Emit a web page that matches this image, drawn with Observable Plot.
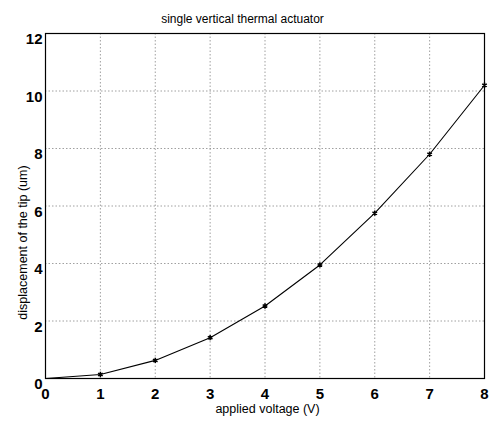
<!DOCTYPE html>
<html><head><meta charset="utf-8">
<script src="https://cdn.jsdelivr.net/npm/d3@7"></script>
<script src="https://cdn.jsdelivr.net/npm/@observablehq/plot@0.6"></script>
<style>body{margin:0;background:#fff}</style>
</head><body><div id="chart"></div>
<script>
const voltage = [0, 1, 2, 3, 4, 5, 6, 7, 8];
const displacement = [0, 0.14, 0.63, 1.42, 2.52, 3.95, 5.75, 7.8, 10.2];
const xTicks = [0, 1, 2, 3, 4, 5, 6, 7, 8];
const yTicks = [0, 2, 4, 6, 8, 10, 12];
const title = "single vertical thermal actuator";
const xLabel = "applied voltage (V)";
const yLabel = "displacement of the tip (um)";

const data = voltage.map((v, i) => ({v, d: displacement[i]}));

const chart = Plot.plot({
  width: 494, height: 424,
  marginLeft: 45, marginRight: 10, marginTop: 33, marginBottom: 46,
  style: {fontFamily: "Liberation Sans, Arial, sans-serif", background: "#fff", color: "#000"},
  x: {domain: [0, 8], ticks: xTicks},
  y: {domain: [0, 12], ticks: yTicks},
  marks: [
    Plot.gridX(xTicks, {stroke: "#888", strokeOpacity: 1, strokeDasharray: "1.5,2", strokeWidth: 0.8}),
    Plot.gridY(yTicks, {stroke: "#888", strokeOpacity: 1, strokeDasharray: "1.5,2", strokeWidth: 0.8}),
    Plot.frame({stroke: "#000", strokeWidth: 1.2}),
    Plot.axisX(xTicks, {tickSize: 0, tickPadding: 10, fontSize: 15, fontWeight: "bold", label: null}),
    Plot.axisY(yTicks, {tickSize: 0, tickPadding: 3, dy: 6, fontSize: 15, fontWeight: "bold", label: null}),
    Plot.line(data, {x: "v", y: "d", stroke: "#000", strokeWidth: 1.1}),
    Plot.dot(data.slice(1), {x: "v", y: "d", symbol: "asterisk", r: 2.5, stroke: "#000", strokeWidth: 1.5}),
    Plot.text([title], {frameAnchor: "top-left", dx: 242 - 45, dy: -19, textAnchor: "middle", fontSize: 12}),
    Plot.text([xLabel], {frameAnchor: "bottom-left", dx: 267 - 45, dy: 34, textAnchor: "middle", fontSize: 12.5}),
    Plot.text([yLabel], {frameAnchor: "top-left", dx: -27, dy: 242 - 33, textAnchor: "middle", rotate: -90, fontSize: 12.5})
  ]
});
document.getElementById("chart").appendChild(chart);
</script>
</body></html>
